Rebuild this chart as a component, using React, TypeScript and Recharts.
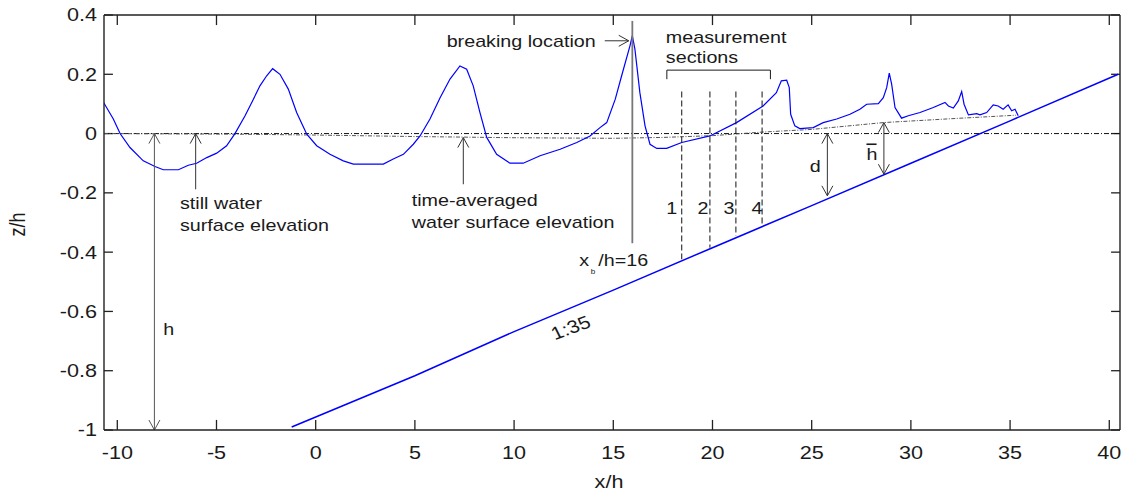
import React from 'react';
import { ComposedChart, Line, XAxis, YAxis, ReferenceLine, ReferenceDot } from 'recharts';

const FONT = '"Liberation Sans", Arial, Helvetica, sans-serif';
const TICK_SX = 1.2;
const ANN_SX = 1.16;
const INK = '#1a1a1a';
const AX = '#222';

const xTicks = [-10, -5, 0, 5, 10, 15, 20, 25, 30, 35, 40];
const yTicks = [-1, -0.8, -0.6, -0.4, -0.2, 0, 0.2, 0.4];
const xDomain: [number, number] = [-10.67, 40.54];
const yDomain: [number, number] = [-1, 0.4];

// instantaneous water surface (blue)
const surfaceX = [
  -10.69, -10.2, -9.86, -9.36, -8.69, -8.1, -7.68, -6.92, -6.42, -6.0, -5.49, -4.99, -4.49, -4.07,
  -3.56, -3.14, -2.81, -2.47, -2.17, -1.8, -1.38, -0.96, -0.45, 0.05, 0.72, 1.39, 1.9, 3.41, 3.91,
  4.42, 4.92, 5.26, 5.76, 6.27, 6.77, 7.27, 7.61, 7.94, 8.28, 8.62, 9.12, 9.79, 10.46, 11.31, 12.32,
  13.16, 13.83, 14.33, 14.67, 15.1, 15.4, 15.84, 15.96, 16.09, 16.34, 16.6, 16.85, 17.19, 17.69,
  18.45, 19.87, 21.21, 22.55, 23.22, 23.47, 23.74, 23.87, 23.94, 24.15, 24.4, 25.08, 25.58, 26.26,
  26.93, 27.43, 27.77, 28.36, 28.61, 28.78, 28.91, 29.03, 29.2, 29.53, 29.87, 30.46, 31.13, 31.72,
  31.89, 32.14, 32.39, 32.56, 32.68, 32.9, 33.32, 33.48, 33.82, 34.15, 34.4, 34.65, 34.9, 35.08,
  35.25, 35.41,
];
const surfaceZ = [
  0.105, 0.049, 0.0, -0.047, -0.092, -0.111, -0.122, -0.122, -0.107, -0.1, -0.081, -0.066, -0.041, 0.0,
  0.06, 0.116, 0.161, 0.195, 0.219, 0.2, 0.15, 0.071, -0.002, -0.041, -0.07, -0.092, -0.103, -0.103, -0.086,
  -0.07, -0.036, -0.008, 0.049, 0.121, 0.184, 0.228, 0.217, 0.161, 0.071, -0.013, -0.07, -0.1, -0.1, -0.075, -0.053,
  -0.03, -0.008, 0.02, 0.037, 0.116, 0.19, 0.296, 0.33, 0.285, 0.138, 0.026, -0.036, -0.05, -0.05,
  -0.03, -0.008, 0.037, 0.093, 0.138, 0.178, 0.18, 0.155, 0.065, 0.026, 0.017, 0.02, 0.037, 0.049,
  0.065, 0.082, 0.099, 0.101, 0.121, 0.155, 0.204, 0.167, 0.088, 0.052, 0.06, 0.071, 0.088, 0.105,
  0.093, 0.086, 0.11, 0.142, 0.099, 0.063, 0.067, 0.063, 0.071, 0.097, 0.093, 0.082, 0.097, 0.077,
  0.082, 0.06,
];

// bed (1:35 slope)
const bedX = [-1.21, 5, 10, 15, 20, 25, 30, 35, 40.45];
const bedZ = [-0.99, -0.817, -0.668, -0.528, -0.385, -0.243, -0.1, 0.043, 0.2];

// time-averaged water surface
const meanX = [-10.67, -4, 0, 5, 10, 15, 17.5, 20, 22.5, 25, 28.6, 32, 35.3];
const meanZ = [0, -0.002, -0.005, -0.01, -0.014, -0.016, -0.013, -0.007, 0.005, 0.014, 0.037, 0.05, 0.062];

// still water level
const stillX = [-10.67, 40.54];
const stillZ = [0, 0];

// measurement sections
const sectionX = [18.45, 19.87, 21.18, 22.5];
const sectionBottom = [-0.424, -0.385, -0.345, -0.314];
const sectionTop = 0.142;
const sectionLabels = ['1', '2', '3', '4'];
const sectionLabelX = [17.94, 19.52, 20.83, 22.24];

const zip = (xs: number[], zs: number[]) => xs.map((x, i) => ({ x, z: zs[i] }));
const surfaceData = zip(surfaceX, surfaceZ);
const bedData = zip(bedX, bedZ);
const meanData = zip(meanX, meanZ);
const stillData = zip(stillX, stillZ);

function STxt({ x, y, children, anchor = 'start', size = 17, sx = ANN_SX, rotate = 0, dy, fill = INK }: any) {
  const t = `translate(${x},${y}) scale(${sx},1)` + (rotate ? ` rotate(${rotate})` : '');
  return (
    <text transform={t} x={0} y={0} dy={dy} textAnchor={anchor} fontFamily={FONT} fontSize={size} fill={fill}>
      {children}
    </text>
  );
}

function Arrow({ x1, y1, x2, y2, head = 'end', color = '#333', w = 1 }: any) {
  const mk = (tx: number, ty: number, fx: number, fy: number, k: string) => {
    const dx = tx - fx, dy = ty - fy;
    const L = Math.hypot(dx, dy) || 1;
    const ux = dx / L, uy = dy / L;
    const hl = 10, hw = 5.5;
    const bx = tx - ux * hl, by = ty - uy * hl;
    return (
      <polyline key={k} points={`${bx - uy * hw},${by + ux * hw} ${tx},${ty} ${bx + uy * hw},${by - ux * hw}`}
        fill="none" stroke={color} strokeWidth={w} />
    );
  };
  return (
    <g>
      <line x1={x1} y1={y1} x2={x2} y2={y2} stroke={color} strokeWidth={w} />
      {(head === 'end' || head === 'both') && mk(x2, y2, x1, y1, 'e')}
      {(head === 'start' || head === 'both') && mk(x1, y1, x2, y2, 's')}
    </g>
  );
}

const BottomTick = ({ x, y, payload }: any) => (
  <STxt x={x} y={y} anchor="middle" size={18} sx={TICK_SX}>{String(payload.value)}</STxt>
);
const LeftTick = ({ x, y, payload }: any) => (
  <STxt x={x} y={y} dy="0.36em" anchor="end" size={18} sx={TICK_SX}>{String(payload.value)}</STxt>
);
const NoTick = () => <g />;

const XLabel = (p: any) => {
  const vb = p.viewBox || { x: 104, y: 430, width: 1016, height: 63 };
  return <STxt x={vb.x + vb.width / 2 - 3} y={488} anchor="middle" size={18} sx={TICK_SX}>x/h</STxt>;
};
const YLabel = (p: any) => {
  const vb = p.viewBox || { x: 0, y: 15, width: 104, height: 415 };
  return (
    <text transform={`translate(25,${vb.y + vb.height / 2 + 2}) scale(${TICK_SX},1) rotate(-90)`} textAnchor="middle"
      fontFamily={FONT} fontSize={18} fill={INK}>z/h</text>
  );
};

const label = (x: number, z: number, text: string, opts: any = {}) => (
  <ReferenceDot key={`${text}-${x}-${z}`} x={x} y={z} r={0} ifOverflow="visible"
    shape={(p: any) => <STxt x={p.cx} y={p.cy} {...opts}>{text}</STxt>} />
);
const arrow = (a: [number, number], b: [number, number], head: string, color = '#333', w = 1) => (
  <ReferenceLine key={`ar-${a}-${b}`} segment={[{ x: a[0], y: a[1] }, { x: b[0], y: b[1] }]} ifOverflow="visible"
    shape={(p: any) => <Arrow x1={p.x1} y1={p.y1} x2={p.x2} y2={p.y2} head={head} color={color} w={w} />} />
);
const seg = (a: [number, number], b: [number, number], stroke = INK, w = 1, dash?: string) => (
  <ReferenceLine key={`sg-${a}-${b}`} segment={[{ x: a[0], y: a[1] }, { x: b[0], y: b[1] }]} ifOverflow="visible"
    stroke={stroke} strokeWidth={w} strokeDasharray={dash} />
);

// inward tick marks on all four sides of the frame
const xTickLen = 0.034;
const yTickLen = 0.45;

const axisLineStyle = { stroke: AX, strokeWidth: 1.4 };

export default function App() {
  return (
    <div style={{ position: 'absolute', left: 0, top: 0, width: 1128, height: 493, background: '#fff' }}>
      <ComposedChart width={1128} height={493} margin={{ top: 14, right: 7, bottom: 0, left: 0 }}>
        <XAxis dataKey="x" type="number" domain={xDomain} allowDataOverflow ticks={xTicks} interval={0}
          orientation="bottom" height={63} tickSize={0} tickMargin={29} tickLine={false}
          axisLine={axisLineStyle} tick={<BottomTick />} label={{ content: XLabel }} />
        <XAxis xAxisId="t" dataKey="x" type="number" domain={xDomain} allowDataOverflow ticks={xTicks} interval={0}
          orientation="top" height={1} tickSize={0} tickMargin={0} tickLine={false}
          axisLine={axisLineStyle} tick={<NoTick />} />
        <YAxis type="number" domain={yDomain} allowDataOverflow ticks={yTicks} interval={0}
          orientation="left" width={104} tickSize={0} tickMargin={7} tickLine={false}
          axisLine={axisLineStyle} tick={<LeftTick />} label={{ content: YLabel }} />
        <YAxis yAxisId="r" type="number" domain={yDomain} allowDataOverflow ticks={yTicks} interval={0}
          orientation="right" width={1} tickSize={0} tickMargin={0} tickLine={false}
          axisLine={axisLineStyle} tick={<NoTick />} />

        <Line xAxisId="t" yAxisId="r" data={stillData} dataKey="z" type="linear" stroke="none"
          dot={false} activeDot={false} isAnimationActive={false} legendType="none" />

        {xTicks.map((v) => seg([v, yDomain[1]], [v, yDomain[1] - xTickLen], AX, 1.3))}
        {xTicks.map((v) => seg([v, yDomain[0]], [v, yDomain[0] + xTickLen], AX, 1.3))}
        {yTicks.map((v) => seg([xDomain[0], v], [xDomain[0] + yTickLen, v], AX, 1.3))}
        {yTicks.map((v) => seg([xDomain[1], v], [xDomain[1] - yTickLen, v], AX, 1.3))}

        <Line data={stillData} dataKey="z" type="linear" stroke="#111" strokeWidth={1}
          strokeDasharray="5 2 1 2" dot={false} activeDot={false} isAnimationActive={false} />
        <Line data={meanData} dataKey="z" type="linear" stroke="#555" strokeWidth={1}
          strokeDasharray="4 1.5 1 1.5" dot={false} activeDot={false} isAnimationActive={false} />
        <Line data={bedData} dataKey="z" type="linear" stroke="#0000ff" strokeWidth={1.5}
          dot={false} activeDot={false} isAnimationActive={false} />
        <Line data={surfaceData} dataKey="z" type="linear" stroke="#0000ff" strokeWidth={1.2}
          dot={false} activeDot={false} isAnimationActive={false} />

        {/* breaking location */}
        {seg([15.96, 0.38], [15.96, -0.37], '#777', 1.8)}
        {arrow([14.57, 0.313], [15.78, 0.313], 'end')}
        {label(6.6, 0.2935, 'breaking location')}
        {label(13.28, -0.447, 'x')}
        {label(13.86, -0.474, 'b', { size: 7 })}
        {label(14.24, -0.447, '/h=16')}

        {/* measurement sections */}
        {label(17.65, 0.307, 'measurement')}
        {label(17.65, 0.2375, 'sections')}
        {seg([17.7, 0.1835], [17.7, 0.214])}
        {seg([17.7, 0.214], [22.92, 0.214])}
        {seg([22.92, 0.214], [22.92, 0.1835])}
        {sectionX.map((sx, i) => seg([sx, sectionTop], [sx, sectionBottom[i]], '#111', 1, '6 3'))}
        {sectionLabels.map((t, i) => label(sectionLabelX[i], -0.272, t, { anchor: 'middle' }))}

        {/* still water */}
        {arrow([-6.05, -0.188], [-6.05, 0], 'end')}
        {label(-6.84, -0.255, 'still water')}
        {label(-6.84, -0.328, 'surface elevation')}

        {/* h */}
        {arrow([-8.13, 0], [-8.13, -1], 'both', '#555')}
        {label(-7.68, -0.68, 'h')}

        {/* time-averaged */}
        {arrow([7.44, -0.171], [7.44, -0.0135], 'end')}
        {label(4.84, -0.244, 'time-averaged')}
        {label(4.84, -0.317, 'water surface elevation')}

        {/* slope */}
        {label(12.85, -0.6545, '1:35', { anchor: 'middle', rotate: -23, dy: '0.35em', size: 18 })}

        {/* d */}
        {arrow([25.79, 0], [25.79, -0.21], 'both')}
        {label(24.9, -0.128, 'd')}

        {/* h bar */}
        {arrow([28.64, 0.037], [28.64, -0.137], 'both')}
        {label(27.76, -0.09, 'h')}
        {seg([27.76, -0.036], [28.27, -0.036], INK, 1.6)}
      </ComposedChart>
    </div>
  );
}
